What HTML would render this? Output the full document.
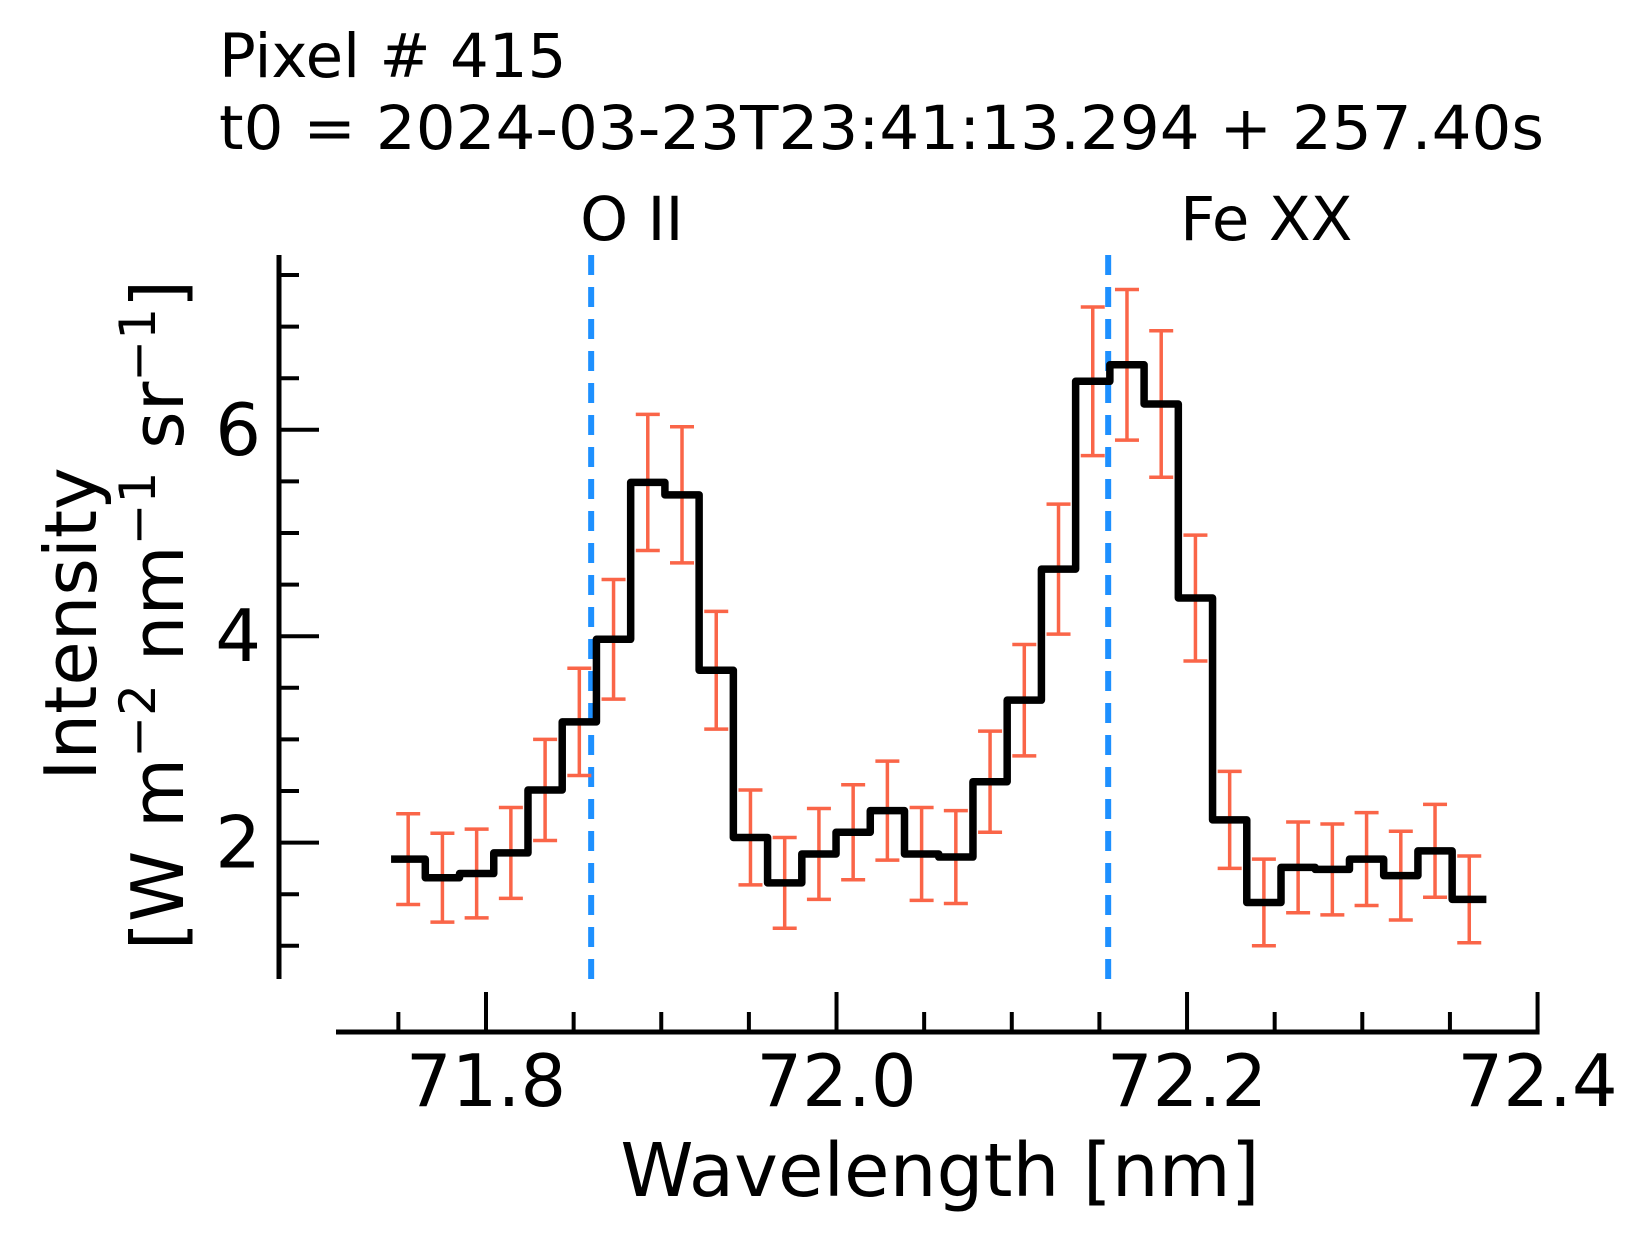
<!DOCTYPE html>
<html><head><meta charset="utf-8"><style>
html,body{margin:0;padding:0;background:#fff;}
svg{display:block;font-family:"DejaVu Sans","Liberation Sans",sans-serif;}
</style></head><body>
<svg id="chart" width="1648" height="1238" viewBox="0 0 1648 1238" xmlns="http://www.w3.org/2000/svg">
<rect width="1648" height="1238" fill="#fff"/>
<text x="219" y="77" font-size="61">Pixel # 415</text>
<text x="219" y="149" font-size="61" textLength="1325" lengthAdjust="spacingAndGlyphs">t0 = 2024-03-23T23:41:13.294 + 257.40s</text>
<g id="axes"></g>
<g id="marks"></g>
<text x="940" y="1196" font-size="74" text-anchor="middle">Wavelength [nm]</text>
<text transform="translate(96,624) rotate(-90)" font-size="72" text-anchor="middle">Intensity</text>
<text transform="translate(183,615) rotate(-90)" font-size="72" text-anchor="middle">[W m<tspan font-size="50" dy="-28">−2</tspan><tspan dy="28"> nm</tspan><tspan font-size="50" dy="-28">−1</tspan><tspan dy="28"> sr</tspan><tspan font-size="50" dy="-28">−1</tspan><tspan dy="28">]</tspan></text>
</svg>
<script>
const binStart = 71.7556;
const binStep = 0.01953;
const intensity = [1.84,1.66,1.70,1.90,2.51,3.17,3.97,5.49,5.37,3.67,2.05,1.61,1.89,2.10,2.31,1.89,1.86,2.59,3.38,4.65,6.47,6.63,6.25,4.37,2.22,1.42,1.76,1.74,1.84,1.68,1.92,1.45];
const errors = [0.44,0.43,0.43,0.44,0.49,0.52,0.58,0.66,0.66,0.57,0.46,0.44,0.44,0.46,0.48,0.45,0.45,0.49,0.54,0.63,0.72,0.73,0.71,0.61,0.47,0.42,0.44,0.44,0.45,0.43,0.45,0.42];
const xTicks = [71.8,72.0,72.2,72.4];
const xTickLabels = ["71.8","72.0","72.2","72.4"];
const yTicks = [2,4,6];
const yTickLabels = ["2","4","6"];
const lineWavelengths = [71.86,72.155];
const lineLabels = ["O II","Fe XX"];
const labelOffsets = [-11,72];

const NS="http://www.w3.org/2000/svg";
const X=v=>486+(v-71.8)*1752.6;
const Y=v=>1049-v*103.2;
function mk(tag,attrs,parent){const e=document.createElementNS(NS,tag);for(const k in attrs)e.setAttribute(k,attrs[k]);parent.appendChild(e);return e;}
const axes=document.getElementById('axes'), marks=document.getElementById('marks');

let a=mk('line',{x1:279,y1:255,x2:279,y2:979,stroke:'#000','stroke-width':5},axes);


a=mk('line',{x1:336,y1:1032,x2:X(72.4)+2,y2:1032,stroke:'#000','stroke-width':5},axes);


for(let v=71.75;v<=72.351;v+=0.05){
  if(xTicks.some(t=>Math.abs(t-v)<1e-6))continue;
  const t=mk('line',{x1:X(v),x2:X(v),y1:1032,y2:1012,stroke:'#000','stroke-width':4},axes);
  
  
}
xTicks.forEach((v,i)=>{
  const t=mk('line',{x1:X(v),x2:X(v),y1:1032,y2:992,stroke:'#000','stroke-width':4},axes);
  
  
  const l=mk('text',{x:X(v),y:1106,'font-size':72,'text-anchor':'middle'},axes);
  l.textContent=xTickLabels[i];
  
  
});
for(let v=1;v<=7.51;v+=0.5){
  if(yTicks.some(t=>Math.abs(t-v)<1e-6))continue;
  const t=mk('line',{x1:279,x2:299,y1:Y(v),y2:Y(v),stroke:'#000','stroke-width':4},axes);
  
  
}
yTicks.forEach((v,i)=>{
  const t=mk('line',{x1:279,x2:319,y1:Y(v),y2:Y(v),stroke:'#000','stroke-width':4},axes);
  
  
  const l=mk('text',{x:261,y:Y(v)+25,'font-size':72,'text-anchor':'end'},axes);
  l.textContent=yTickLabels[i];
  
  
});

lineWavelengths.forEach((w,i)=>{
  const l=mk('line',{x1:X(w),x2:X(w),y1:255,y2:979,stroke:'#1e90ff','stroke-width':6,'stroke-dasharray':'20 12'},marks);
  
  
  const t=mk('text',{x:X(w)+labelOffsets[i],y:240,'font-size':61},marks);
  t.textContent=lineLabels[i];
  
  
});

intensity.forEach((v,i)=>{
  const c=binStart+i*binStep, x=X(c), e=errors[i];
  const g=mk('g',{stroke:'#fa6548','stroke-width':3.5},marks);
  
  
  mk('line',{x1:x,x2:x,y1:Y(v+e),y2:Y(v-e)},g);
  mk('line',{x1:x-12,x2:x+12,y1:Y(v+e),y2:Y(v+e)},g);
  mk('line',{x1:x-12,x2:x+12,y1:Y(v-e),y2:Y(v-e)},g);
});

let d='';
intensity.forEach((v,i)=>{
  const c=binStart+i*binStep;
  const x0=X(c-binStep/2), x1=X(c+binStep/2);
  d+=(i===0?'M':'L')+x0+','+Y(v)+'L'+x1+','+Y(v);
});
const p=mk('path',{d:d,fill:'none',stroke:'#000','stroke-width':7.5,'stroke-linejoin':'round'},marks);


</script>
</body></html>
